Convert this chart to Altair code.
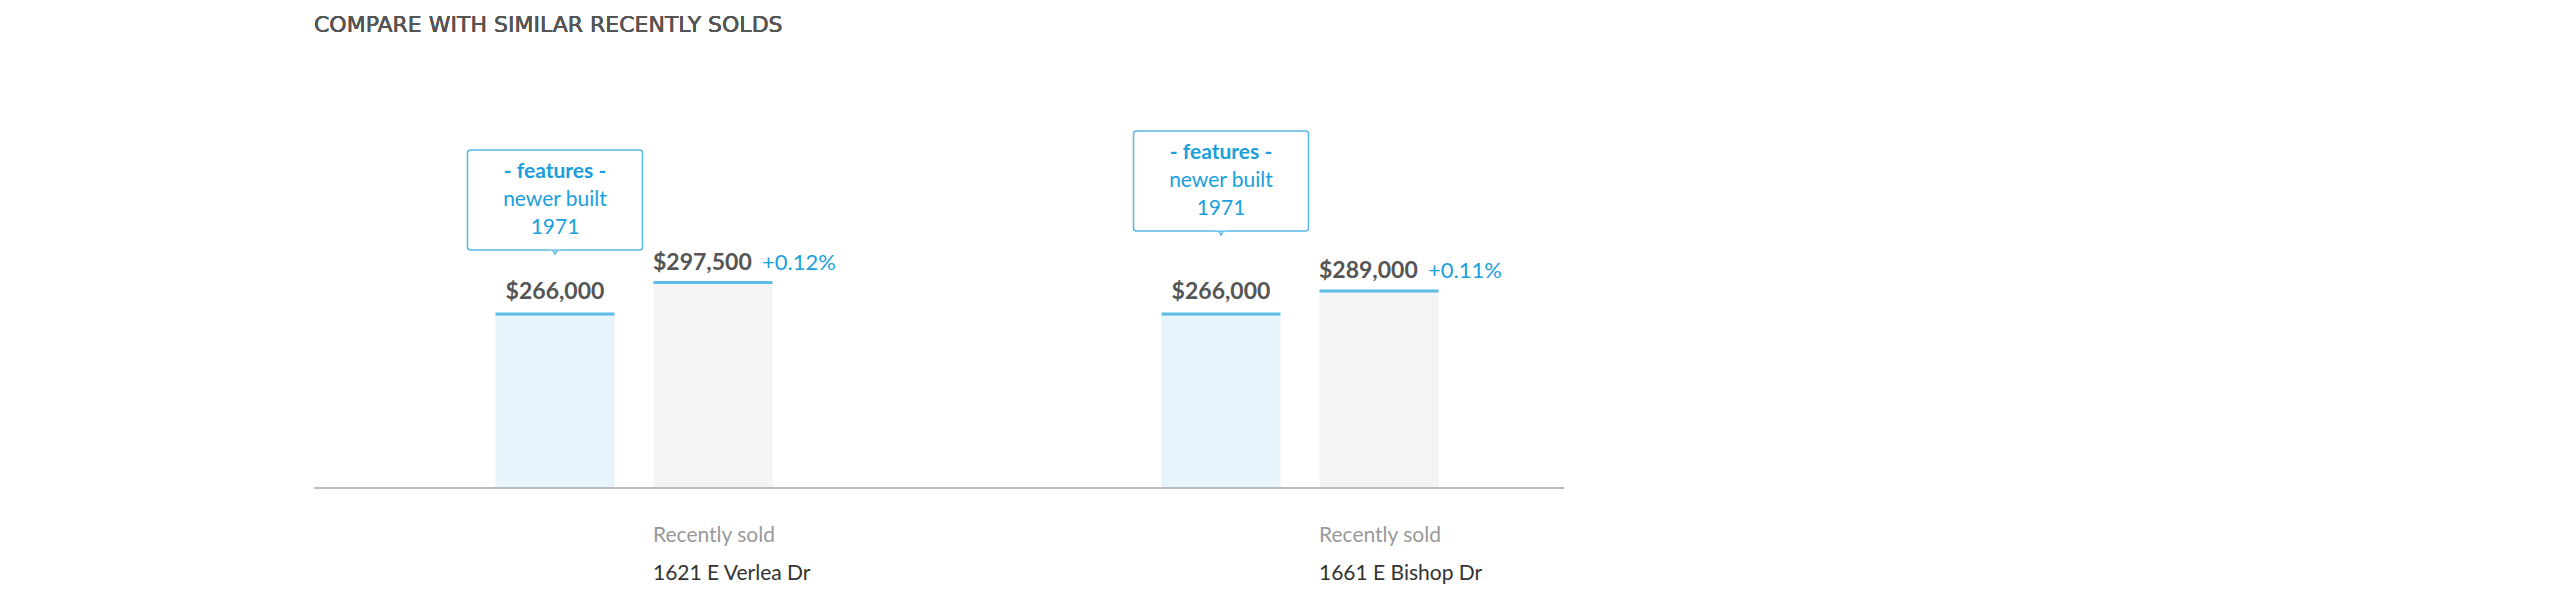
import altair as alt
import pandas as pd

title = "COMPARE WITH SIMILAR RECENTLY SOLDS"
properties = ["1621 E Verlea Dr", "1661 E Bishop Dr"]
subject_price = [266000, 266000]
sold_price = [297500, 289000]
sold_change = ["+0.12%", "+0.11%"]
feature_head = "- features -"
feature_lines = ["newer built", "1971"]
callout_top = [142, 123]  # pixel tops of callout boxes

BLUE = "#1a9fdc"
BASE = 92000
TOP = 572000

bars = pd.DataFrame({
    "property": properties * 2,
    "kind": ["subject"] * 2 + ["sold"] * 2,
    "price": subject_price + sold_price,
    "label": ["$" + format(v, ",") for v in subject_price + sold_price],
    "fill": ["#e8f4fb"] * 2 + ["#f4f4f4"] * 2,
})
sold = bars[bars.kind == "sold"].copy()
sold["change"] = sold_change
subj = bars[bars.kind == "subject"].copy()
subj["top"] = callout_top
subj["bottom"] = [t + 100 for t in callout_top]
subj["l1"] = [t + 22 for t in callout_top]
subj["l2"] = [t + 50 for t in callout_top]
subj["l3"] = [t + 78 for t in callout_top]
subj["h"] = feature_head
subj["t1"] = feature_lines[0]
subj["t2"] = feature_lines[1]

x = alt.X("property:N", sort=properties, axis=None, scale=alt.Scale(range=[-13, 1319], paddingInner=0, paddingOuter=0))
xo = alt.XOffset("kind:N", sort=["subject", "sold"], scale=alt.Scale(range=[194.5, 471.5], paddingInner=0.247, paddingOuter=0))
y = alt.Y("price:Q", axis=None, scale=alt.Scale(domain=[BASE, TOP], zero=False, clamp=True))

base = alt.Chart(bars).encode(x=x, xOffset=xo)

bar = base.mark_bar(width=119).encode(y=y, y2=alt.datum(BASE), color=alt.Color("fill:N", scale=None))
topline = base.mark_tick(width=119, thickness=3, color=BLUE).encode(y=y)

subj_lbl = alt.Chart(subj).mark_text(font="Lato", fontSize=23, fontWeight="bold", color="#555", dy=-22).encode(
    x=x, xOffset=xo, y=y, text="label:N")
sold_lbl = alt.Chart(sold).mark_text(font="Lato", fontSize=23, fontWeight="bold", color="#555", align="left", dx=-60, dy=-20).encode(
    x=x, xOffset=xo, y=y, text="label:N")
sold_pct = alt.Chart(sold).mark_text(font="Lato", fontSize=22, color=BLUE, align="left", dx=49, dy=-20).encode(
    x=x, xOffset=xo, y=y, text="change:N")

sub_lbl = alt.Chart(sold).mark_text(font="Lato", fontSize=21, color="#999", align="left", dx=-60).encode(
    x=x, xOffset=xo, y=alt.value(528), text=alt.value("Recently sold"))
addr = alt.Chart(sold).mark_text(font="Lato", fontSize=21, color="#333", align="left", dx=-60).encode(
    x=x, xOffset=xo, y=alt.value(566), text="property:N")

cb = alt.Chart(subj).encode(x=x, xOffset=xo)
box = cb.mark_bar(width=175, fill="white", stroke="#5ab6e3", strokeWidth=1.5, cornerRadius=3).encode(
    y=alt.Y("top:Q", scale=None), y2="bottom:Q")
pointer = cb.mark_point(shape="triangle-down", size=90, fill="white", stroke="#5ab6e3", strokeWidth=1.5, filled=False, opacity=1).encode(
    y=alt.Y("bottom:Q", scale=None))
ptr_cover = cb.mark_tick(width=12, thickness=3, color="white").encode(y=alt.Y("bottom:Q", scale=None), yOffset=alt.value(-2))
t_head = cb.mark_text(font="Lato", fontSize=21, fontWeight="bold", color=BLUE).encode(y=alt.Y("l1:Q", scale=None), text="h:N")
t1 = cb.mark_text(font="Lato", fontSize=21, color=BLUE).encode(y=alt.Y("l2:Q", scale=None), text="t1:N")
t2 = cb.mark_text(font="Lato", fontSize=21, color=BLUE).encode(y=alt.Y("l3:Q", scale=None), text="t2:N")

axis_line = alt.Chart(bars).mark_rule(color="#bbb", strokeWidth=2).encode(
    x=alt.value(0), x2=alt.value(1250), y=alt.value(480))
head = alt.Chart(bars).mark_text(font="DejaVu Sans", fontSize=22, color="#555", align="left", baseline="middle").encode(
    x=alt.value(0), y=alt.value(17), text=alt.value(title))

chart = alt.layer(
    bar, topline, axis_line, subj_lbl, sold_lbl, sold_pct, sub_lbl, addr,
    pointer, box, ptr_cover, t_head, t1, t2, head,
).properties(
    width=1250, height=480,
    padding={"left": 305, "top": 0, "right": 0, "bottom": 0},
).configure_view(stroke=None)

chart.save("out.html", embed_options={"renderer": "svg", "actions": False})
